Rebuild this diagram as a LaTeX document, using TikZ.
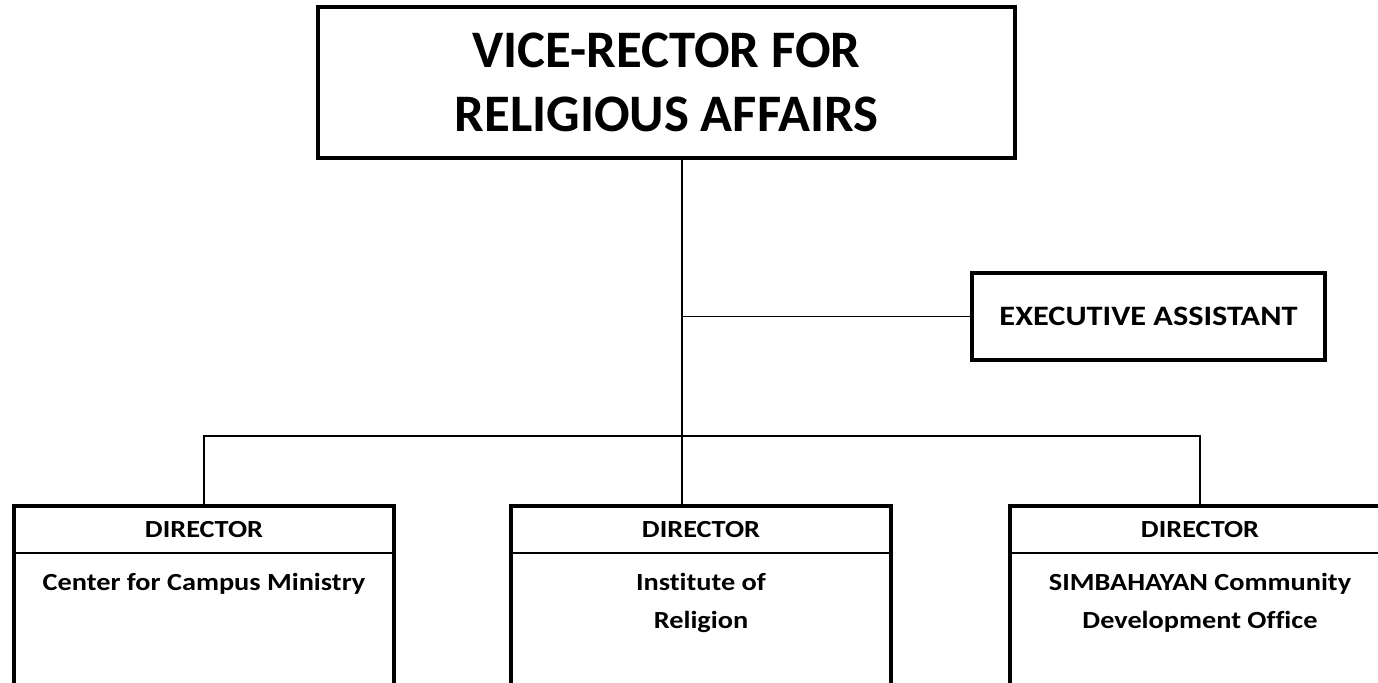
\documentclass[tikz,border=0pt]{standalone}
\usepackage{fontspec}
\setmainfont{Carlito}[Ligatures=NoCommon]
\newfontfamily\widefont{Carlito}[FakeStretch=1.15, Ligatures=NoCommon]
\usetikzlibrary{positioning, calc}

\tikzset{
  officebox/.style={draw, line width=2.4pt, align=center, inner sep=0pt, outer sep=0pt},
  dirframe/.style={draw, line width=2.4pt, minimum width=7.6cm, minimum height=3.94cm, inner sep=0pt, outer sep=0pt},
  dirhead/.style={minimum width=7.6cm, minimum height=0.94cm, inner sep=0pt, outer sep=0pt, font=\widefont\fontsize{14}{17}\selectfont\bfseries},
  dirtext/.style={align=center, inner sep=0pt, font=\widefont\fontsize{14}{21.5}\selectfont\bfseries},
  divider/.style={line width=1.1pt},
  link/.style={line width=0.9pt}
}

\begin{document}
\begin{tikzpicture}
  \useasboundingbox (0, 0) rectangle (27.56, 13.66);

  % TOP: Vice-rector
  \node[officebox, minimum width=13.94cm, minimum height=3.02cm,
        font=\fontsize{30}{36}\selectfont\bfseries] (vrra) at (13.33, 12.01)
        {\raisebox{-0.05cm}{VICE-RECTOR FOR}\\\raisebox{-0.05cm}{RELIGIOUS AFFAIRS}};

  % Staff office
  \node[officebox, minimum width=7.06cm, minimum height=1.74cm,
        font=\widefont\fontsize{16}{19}\selectfont\bfseries] (ea) at (22.97, 7.33)
        {EXECUTIVE ASSISTANT};

  % BOTTOM: Directors
  \node[dirframe] (fcm) at (4.08, 1.57) {};
  \node[dirframe] (fir) at (14.02, 1.57) {};
  \node[dirframe] (fsc) at (24.0, 1.57) {};

  \node[dirhead, anchor=north] (hcm) at (fcm.north) {DIRECTOR};
  \node[dirhead, anchor=north] (hir) at (fir.north) {DIRECTOR};
  \node[dirhead, anchor=north] (hsc) at (fsc.north) {DIRECTOR};

  \draw[divider] (hcm.south west) -- (hcm.south east);
  \draw[divider] (hir.south west) -- (hir.south east);
  \draw[divider] (hsc.south west) -- (hsc.south east);

  \node[dirtext, below=0.4cm of hcm.south] (tcm) {Center for Campus Ministry};
  \node[dirtext, below=0.4cm of hir.south] (tir) {Institute of\\Religion};
  \node[dirtext, below=0.4cm of hsc.south] (tsc) {SIMBAHAYAN Community\\Development Office};

  % Connectors
  \coordinate (spine) at (13.64, 4.94);
  \draw[link] (vrra.south -| spine) -- (spine |- fir.north);
  \draw[link] (ea.west) -- (ea.west -| spine);
  \draw[link] (fcm.north) -- (fcm.north |- spine) -- (fsc.north |- spine) -- (fsc.north);
\end{tikzpicture}
\end{document}
